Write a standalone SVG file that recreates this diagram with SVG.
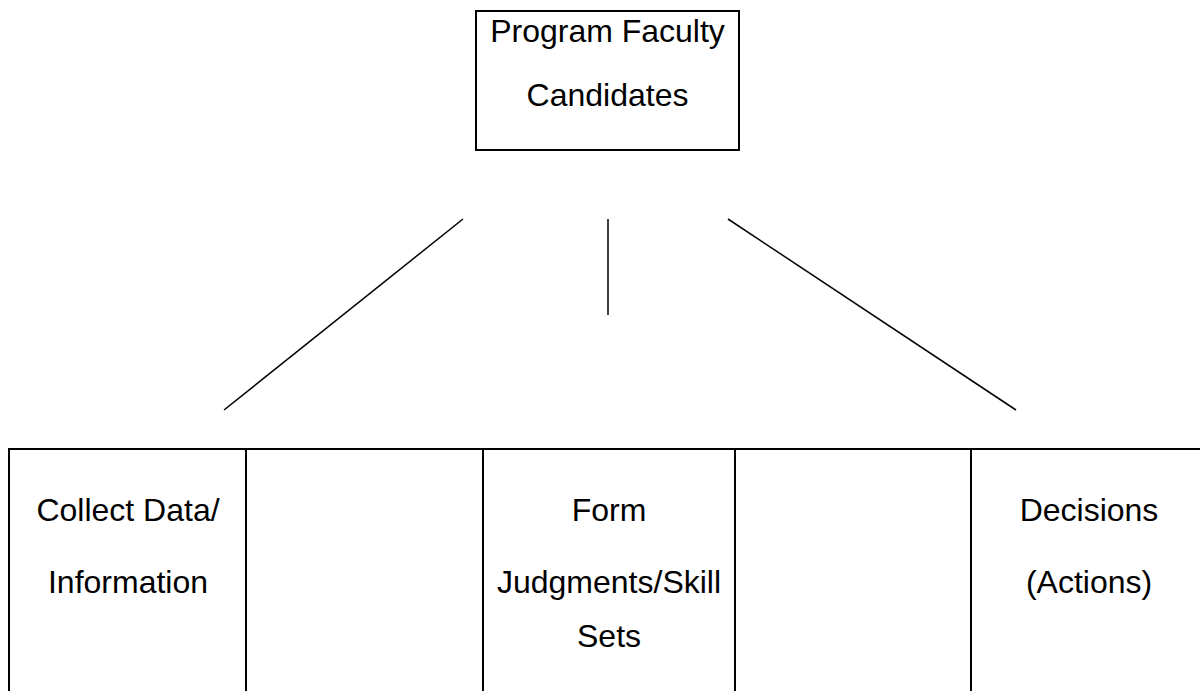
<svg xmlns="http://www.w3.org/2000/svg" width="1200" height="691" viewBox="0 0 1200 691">
<style>
.box{fill:#fff;stroke:#000;stroke-width:2}
.ln{stroke:#000;stroke-width:1.5;fill:none}
text{font-family:"Liberation Sans",Arial,sans-serif;font-size:32px;fill:#000;text-anchor:middle}
</style>
<rect width="1200" height="691" fill="#fff"/>
<g id="top">
<rect class="box" x="476" y="11" width="263" height="139"/>
<text x="607.5" y="42">Program Faculty</text>
<text x="607.5" y="106">Candidates</text>
</g>
<g id="connectors">
<line class="ln" x1="463" y1="219" x2="224" y2="410"/>
<line class="ln" x1="608" y1="219" x2="608" y2="315"/>
<line class="ln" x1="728" y1="219" x2="1016" y2="410"/>
</g>
<g id="table">
<rect class="box" x="9" y="449" width="1200" height="260"/>
<line class="box" x1="246" y1="449" x2="246" y2="700"/>
<line class="box" x1="483" y1="449" x2="483" y2="700"/>
<line class="box" x1="735" y1="449" x2="735" y2="700"/>
<line class="box" x1="971" y1="449" x2="971" y2="700"/>
</g>
<g id="collect">
<text x="128" y="521">Collect Data/</text>
<text x="128" y="593">Information</text>
</g>
<g id="form">
<text x="609" y="521">Form</text>
<text x="609" y="593">Judgments/Skill</text>
<text x="609" y="647">Sets</text>
</g>
<g id="decisions">
<text x="1089" y="521">Decisions</text>
<text x="1089" y="593">(Actions)</text>
</g>
</svg>
